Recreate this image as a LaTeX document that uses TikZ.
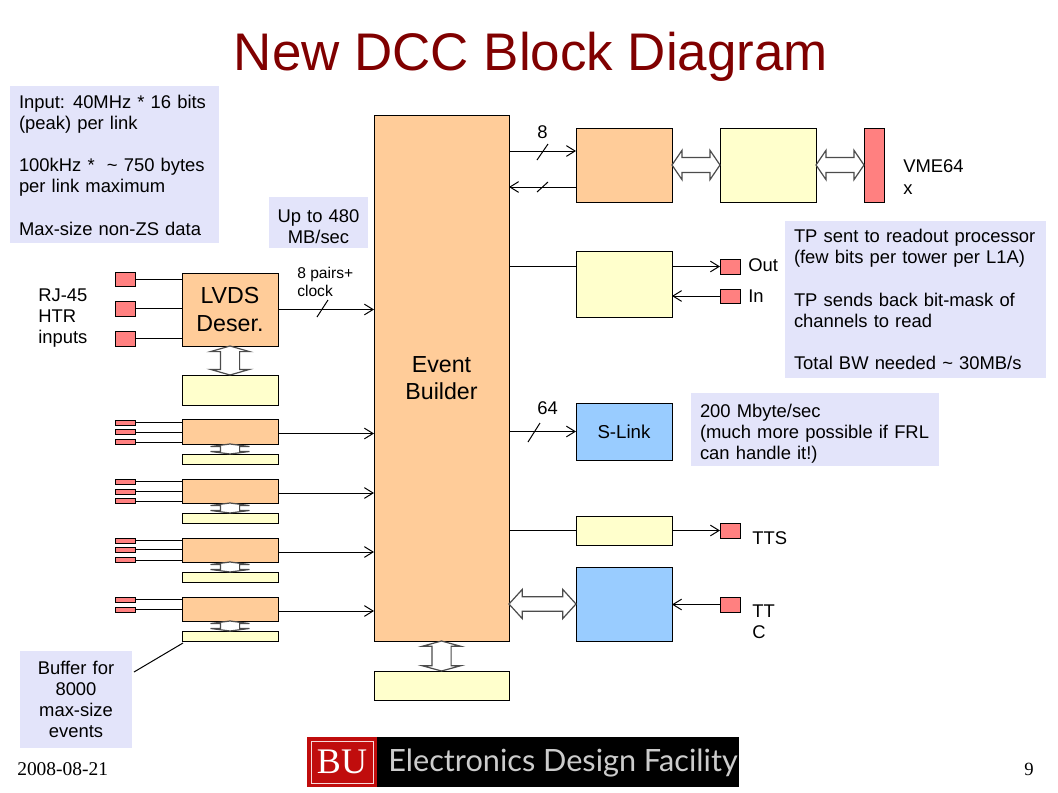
\documentclass[tikz,border=0pt]{standalone}
\usepackage{fontspec}
\setmainfont{Liberation Sans}
\newfontfamily\serifface{Liberation Serif}
\newfontfamily\logoface{Lato}
\usepackage{xcolor}
\usepackage{tikz}
\usetikzlibrary{calc}
\usetikzlibrary{arrows.meta}
\definecolor{peach}{HTML}{FFCC99}
\definecolor{cream}{HTML}{FFFFCC}
\definecolor{skyblue}{HTML}{99CCFF}
\definecolor{pinkred}{HTML}{FF8080}
\definecolor{notefill}{HTML}{E3E4FA}
\definecolor{titlered}{HTML}{800000}
\definecolor{logored}{HTML}{C00D0D}
\def\blockat[#1](#2)(#3:#4:#5:#6)#7{\node[#1,minimum width={((#4)-(#3))*0.75pt},minimum height={((#6)-(#5))*0.75pt}] (#2) at ({((#3)+(#4))/2},{((#5)+(#6))/2}) {#7};}
\def\dblarrow(#1)(#2)(#3:#4:#5){
        \coordinate (ha) at ($(#1)!#3!(#2)$);
        \coordinate (hb) at ($(#2)!#3!(#1)$);
        \draw[widebus] (#1)--($(ha)!#4!90:(#2)$)--($(ha)!#5!90:(#2)$)--($(hb)!#5!-90:(#1)$)--($(hb)!#4!-90:(#1)$)--(#2)--($(hb)!#4!90:(#1)$)--($(hb)!#5!90:(#1)$)--($(ha)!#5!-90:(#2)$)--($(ha)!#4!-90:(#2)$)--cycle;
}
\tikzset{
    block/.style={draw=black,line width=0.75pt,inner sep=0pt,outer sep=0pt,align=center},
    port/.style={block,fill=pinkred},
    note/.style={fill=notefill,inner sep=0pt,outer sep=0pt,align=left,font=\fontsize{13.8}{15.9}\selectfont},
    lbl/.style={inner sep=0pt,anchor=west,align=left,font=\fontsize{13.8}{15.9}\selectfont},
    wire/.style={line width=0.75pt},
    arr/.style={wire,-{Straight Barb[length=6.5pt,width=8pt]}},
    widebus/.style={draw=black!70,fill=white,line width=0.9pt,line join=miter}
}

\begin{document}
\begin{tikzpicture}[x=0.75pt,y=-0.75pt]
        \useasboundingbox (0,0) rectangle (1058,793);

        %%% TITLE %%%
        \node[inner sep=0pt,text=titlered,font=\fontsize{39.7}{44}\selectfont] (title) at (531,57) {New DCC Block Diagram};

        %%% NOTES %%%
        \blockat[note,text width=191*0.75pt](inputnote)(10:219:86:243){\rule{0pt}{11pt}\mbox{Input:\hspace{6pt}40MHz * 16 bits}\\(peak) per link\\[15.9pt]100kHz *\ \ \textasciitilde\ 750 bytes\\per link maximum\\[15.9pt]Max-size non-ZS data}
        \blockat[note,align=center,text width=99*0.75pt](ratenote)(269:368:197:248){\rule{0pt}{16pt}Up to 480\\MB/sec}
        \blockat[note,text width=243*0.75pt](tpnote)(785:1046:221:378){\mbox{TP sent to readout processor}\\(few bits per tower per L1A)\\[15.9pt]TP sends back bit-mask of\\channels to read\\[15.9pt]Total BW needed \textasciitilde\ 30MB/s}
        \blockat[note,text width=230*0.75pt](slinknote)(691:939:393:466){\rule{0pt}{16pt}200 Mbyte/sec\\(much more possible if FRL\\can handle it!)}
        \blockat[note,align=center,text width=112*0.75pt](bufnote)(20:132:651:748){Buffer for\\8000\\max-size\\events}

        %%% MAIN BLOCKS %%%
        \blockat[block,fill=peach,font=\fontsize{17.4}{20.5}\selectfont](eb)(374:509:115:641){Event\\Builder}
        \blockat[block,fill=cream](ebbuf)(374:509:671:700){}
        \blockat[block,fill=peach,font=\fontsize{17.4}{20.5}\selectfont](lvds)(182:278:273:346){LVDS\\Deser.}
        \blockat[block,fill=cream](lvdsbuf)(182:278:375:405){}
        \blockat[block,fill=peach](ctrl)(576:672:128:202){}
        \blockat[block,fill=cream](vmeif)(720:816:128:202){}
        \blockat[port](vme)(864:884:128:202){}
        \blockat[block,fill=cream](tp)(576:672:251:317){}
        \blockat[block,fill=skyblue,font=\fontsize{14}{16}\selectfont](slink)(576:672:403:460){S-Link}
        \blockat[block,fill=cream](tts)(576:672:516:545){}
        \blockat[block,fill=skyblue](ttc)(576:672:567:641){}

        %%% PORTS %%%
        \blockat[port](tpout)(720:740:259:274){}
        \blockat[port](tpin)(720:740:289:303){}
        \blockat[port](ttsout)(720:740:523:538){}
        \blockat[port](ttcin)(720:740:597:612){}

        %%% RJ-45 INPUTS %%%
        \foreach \m/\ya/\yb in {1/272/286,2/301/316,3/331/346} {
            \blockat[port](rj\m)(115:135:\ya:\yb){}
            \draw[wire] (rj\m.east)--(lvds.west |- rj\m.east);
        }

        %%% SMALL ROWS %%%
        \foreach \n/\ya/\yb in {1/419/444,2/479/503,3/538/562,4/597/621} {
            \blockat[block,fill=peach](row\n)(182:278:\ya:\yb){}
            \blockat[block,fill=cream](buf\n)(182:278:\yb+10:\yb+20){}
            \dblarrow(row\n.south)(buf\n.north)(1.9pt:14.6pt:7.2pt)
            \draw[arr] ([yshift=-1.5pt]row\n.east)--([yshift=-1.5pt]eb.west |- row\n.east);
        }
        \foreach \n/\ys in {1/{420,429.5,439.5},2/{479,489,498.5},3/{538,547,557.5},4/{597,607}} {
            \foreach \y [count=\m] in \ys {
                \blockat[port](in\n-\m)(115:135:\y:\y+5){}
                \draw[wire] (in\n-\m.east)--(row\n.west |- in\n-\m.east);
            }
        }

        %%% WIDE BUSES %%%
        \dblarrow(lvds.south)(lvdsbuf.north)(4.2pt:14.6pt:7.2pt)
        \dblarrow(eb.south)(ebbuf.north)(4pt:14.6pt:7.2pt)
        \dblarrow(ctrl.east)(vmeif.west)(7.5pt:11pt:5.6pt)
        \dblarrow(vmeif.east)(vme.west)(7.5pt:11pt:5.6pt)
        \dblarrow(eb.east |- ttc.west)(ttc.west)(10pt:11pt:5.4pt)

        %%% CONNECTIONS %%%
        \draw[arr] (lvds.east)--(eb.west |- lvds.east);
        \draw[arr] ([yshift=10.5pt]eb.east |- ctrl.west)--([yshift=10.5pt]ctrl.west);
        \draw[arr] ([yshift=-16.5pt]ctrl.west)--([yshift=-16.5pt]eb.east |- ctrl.west);
        \draw[wire] (eb.east |- tpout.west)--(tp.west |- tpout.west);
        \draw[arr] (tp.east |- tpout.west)--(tpout.west);
        \draw[arr] (tpin.west)--(tp.east |- tpin.west);
        \draw[arr] (eb.east |- slink.west)--(slink.west);
        \draw[wire] (eb.east |- tts.west)--(tts.west);
        \draw[arr] (tts.east)--(ttsout.west);
        \draw[arr] (ttcin.west)--(ttc.east |- ttcin.west);
        \draw[wire] ($(bufnote.north east)+(2,21)$)--($(buf4.south west)+(1,2)$);

        %%% BUS WIDTH TICKS %%%
        \foreach \xa/\ya/\xb/\yb in {317/317/328/300,537/160/548/144,537/192/548/182,528/442/540/423} {
            \draw[wire] (\xa,\ya)--(\xb,\yb);
        }

        %%% LABELS %%%
        \node[lbl] (rjlabel) at (38,318) {RJ-45\\HTR\\inputs};
        \node[lbl,font=\fontsize{11.7}{13.5}\selectfont] (pairs) at (297,282) {8 pairs+\\clock};
        \node[lbl] (bitsa) at (537,132) {8};
        \node[lbl] (bitsb) at (537,408) {64};
        \node[lbl] (vmelabel) at (903,177) {VME64\\x};
        \node[lbl] (outlabel) at (748,265) {Out};
        \node[lbl] (inlabel) at (748,296) {In};
        \node[lbl] (ttslabel) at (752,538) {TTS};
        \node[lbl] (ttclabel) at (752,622) {TT\\C};

        %%% FOOTER %%%
        \node[lbl,font=\serifface\fontsize{14.6}{16}\selectfont] (date) at (17,769) {2008-08-21};
        \node[lbl,font=\serifface\fontsize{14}{16}\selectfont] (page) at (1024,769) {9};
        \blockat[fill=black,inner sep=0pt,outer sep=0pt](logo)(307:739:737:787){}
        \blockat[fill=logored,inner sep=0pt,outer sep=0pt](logomark)(307:377:737:787){}
        \blockat[draw=white!85!logored,line width=0.75pt,inner sep=0pt,outer sep=0pt,text=white,font=\serifface\fontsize{27}{30}\selectfont](logoname)(311:373:741:783){BU}
        \node[lbl,text=white!80!black,font=\logoface\fontsize{23}{26}\selectfont] (logotext) at (388,763) {Electronics Design Facility};
    \end{tikzpicture}
\end{document}
